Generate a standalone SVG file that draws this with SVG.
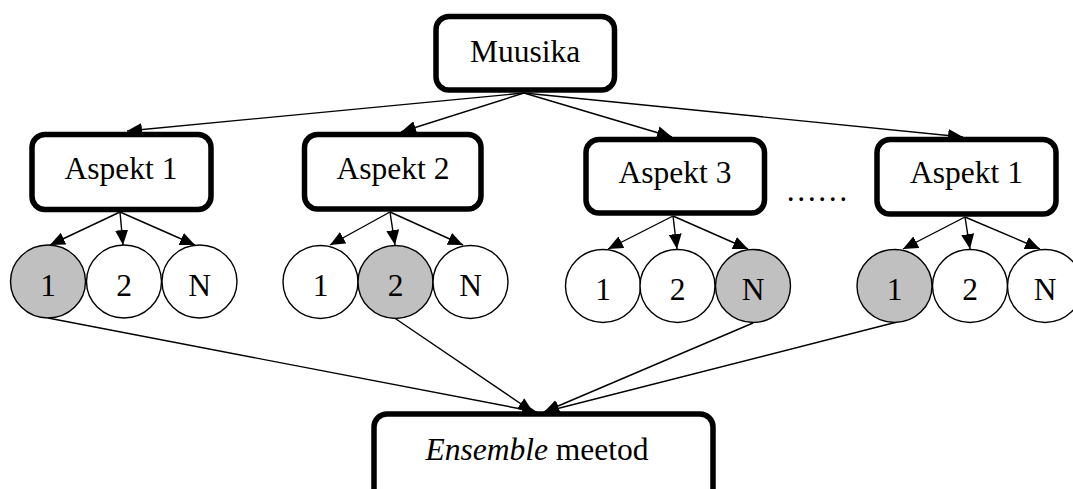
<svg xmlns="http://www.w3.org/2000/svg" width="1073" height="489" viewBox="0 0 1073 489" font-family="'Liberation Serif', 'Times New Roman', serif">
  <defs>
    <marker id="arrow" markerUnits="userSpaceOnUse" markerWidth="15" markerHeight="13" refX="15" refY="6.5" orient="auto">
      <path d="M0,0 L15,6.5 L0,13 z" fill="#000"/>
    </marker>
    <style>
      .box { fill: #fff; stroke: #000; stroke-width: 5.5; }
      .leaf { fill: #fff; stroke: #000; stroke-width: 1.4; }
      .leaf.sel { fill: #c0c0c0; }
      .lbl { font-family: 'Liberation Serif', 'Times New Roman', serif; font-size: 31.5px; fill: #000; text-anchor: middle; }
      .edge { stroke: #000; stroke-width: 1.4; fill: none; marker-end: url(#arrow); }
    </style>
  </defs>
  <rect width="1073" height="489" fill="#fff"/>

  <!-- connectors -->
  <g id="connectors">
    <line class="edge" x1="524" y1="93" x2="127" y2="131"/>
    <line class="edge" x1="524" y1="93" x2="401" y2="132"/>
    <line class="edge" x1="524" y1="93" x2="672" y2="137"/>
    <line class="edge" x1="524" y1="93" x2="963" y2="137"/>

    <line class="edge" x1="120" y1="212" x2="50" y2="245"/>
    <line class="edge" x1="120" y1="212" x2="123" y2="245"/>
    <line class="edge" x1="120" y1="212" x2="195" y2="245"/>

    <line class="edge" x1="390" y1="212" x2="330" y2="245"/>
    <line class="edge" x1="390" y1="212" x2="395" y2="245"/>
    <line class="edge" x1="390" y1="212" x2="463" y2="245"/>

    <line class="edge" x1="673" y1="216" x2="608" y2="249"/>
    <line class="edge" x1="673" y1="216" x2="677" y2="249"/>
    <line class="edge" x1="673" y1="216" x2="748" y2="249"/>

    <line class="edge" x1="965" y1="217" x2="903" y2="249"/>
    <line class="edge" x1="965" y1="217" x2="970" y2="249"/>
    <line class="edge" x1="965" y1="217" x2="1040" y2="249"/>

    <line class="edge" x1="48" y1="318" x2="537" y2="412"/>
    <line class="edge" x1="396" y1="319" x2="533" y2="412"/>
    <line class="edge" x1="753" y1="323" x2="544" y2="412"/>
    <line class="edge" x1="897" y1="322" x2="544" y2="412"/>
  </g>

  <!-- root -->
  <g id="muusika">
    <rect class="box" x="436" y="16.5" width="178.5" height="73.5" rx="13"/>
    <text class="lbl" x="525" y="62">Muusika</text>
  </g>

  <!-- aspects -->
  <g id="aspekt1">
    <rect class="box" x="32" y="134.5" width="179" height="75" rx="13"/>
    <text class="lbl" x="121" y="179">Aspekt 1</text>
  </g>
  <g id="aspekt2">
    <rect class="box" x="304.5" y="134.5" width="176.5" height="74.5" rx="13"/>
    <text class="lbl" x="393" y="179">Aspekt 2</text>
  </g>
  <g id="aspekt3">
    <rect class="box" x="586" y="139.5" width="178.5" height="73.5" rx="13"/>
    <text class="lbl" x="675" y="183">Aspekt 3</text>
  </g>
  <g id="aspekt4">
    <rect class="box" x="877" y="139.5" width="179" height="74.5" rx="13"/>
    <text class="lbl" x="966.5" y="183">Aspekt 1</text>
  </g>
  <g id="ellipsis">
    <text class="lbl" x="817" y="201">……</text>
  </g>

  <!-- classifier nodes under Aspekt 1 -->
  <g id="a1-c1">
    <ellipse class="leaf sel" cx="48" cy="281.5" rx="37.5" ry="36.5"/>
    <text class="lbl" x="48" y="296">1</text>
  </g>
  <g id="a1-c2">
    <ellipse class="leaf" cx="124" cy="281.5" rx="37.5" ry="36.5"/>
    <text class="lbl" x="124" y="296">2</text>
  </g>
  <g id="a1-cN">
    <ellipse class="leaf" cx="199.5" cy="281.5" rx="37.5" ry="36.5"/>
    <text class="lbl" x="199.5" y="296">N</text>
  </g>

  <!-- classifier nodes under Aspekt 2 -->
  <g id="a2-c1">
    <ellipse class="leaf" cx="320.5" cy="282" rx="37.5" ry="36.5"/>
    <text class="lbl" x="320.5" y="296">1</text>
  </g>
  <g id="a2-c2">
    <ellipse class="leaf sel" cx="395.5" cy="282" rx="37.5" ry="36.5"/>
    <text class="lbl" x="395.5" y="296">2</text>
  </g>
  <g id="a2-cN">
    <ellipse class="leaf" cx="470.5" cy="282" rx="37.5" ry="36.5"/>
    <text class="lbl" x="470.5" y="296">N</text>
  </g>

  <!-- classifier nodes under Aspekt 3 -->
  <g id="a3-c1">
    <ellipse class="leaf" cx="603" cy="286" rx="37.5" ry="36.5"/>
    <text class="lbl" x="603" y="300">1</text>
  </g>
  <g id="a3-c2">
    <ellipse class="leaf" cx="677.5" cy="286" rx="37.5" ry="36.5"/>
    <text class="lbl" x="677.5" y="300">2</text>
  </g>
  <g id="a3-cN">
    <ellipse class="leaf sel" cx="753" cy="286" rx="37.5" ry="36.5"/>
    <text class="lbl" x="753" y="300">N</text>
  </g>

  <!-- classifier nodes under the last aspect -->
  <g id="a4-c1">
    <ellipse class="leaf sel" cx="894.5" cy="286" rx="37.5" ry="36.5"/>
    <text class="lbl" x="894.5" y="300">1</text>
  </g>
  <g id="a4-c2">
    <ellipse class="leaf" cx="970" cy="286" rx="37.5" ry="36.5"/>
    <text class="lbl" x="970" y="300">2</text>
  </g>
  <g id="a4-cN">
    <ellipse class="leaf" cx="1045" cy="286" rx="37.5" ry="36.5"/>
    <text class="lbl" x="1045" y="300">N</text>
  </g>

  <!-- combining step -->
  <g id="ensemble">
    <rect class="box" x="374" y="414" width="339" height="100" rx="13"/>
    <text class="lbl" x="537" y="460"><tspan font-style="italic">Ensemble</tspan> meetod</text>
  </g>
</svg>
